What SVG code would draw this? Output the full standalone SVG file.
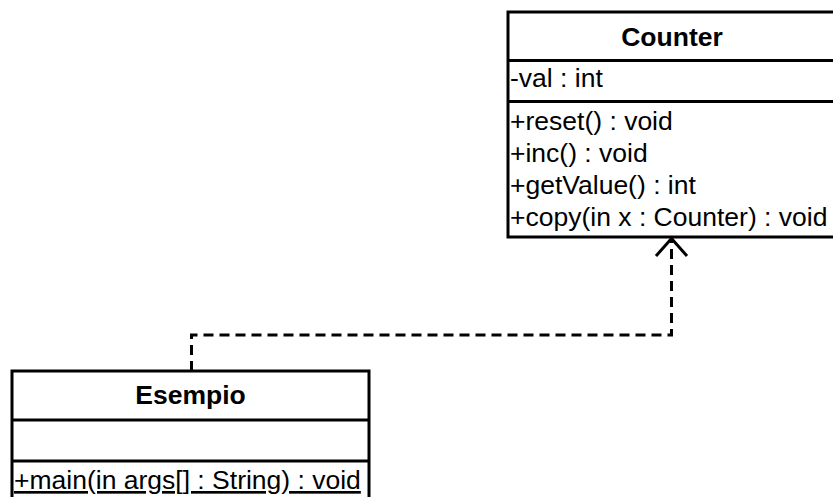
<svg xmlns="http://www.w3.org/2000/svg" width="833" height="497" viewBox="0 0 833 497">
  <style>
    .box { fill: #ffffff; stroke: #000000; stroke-width: 3; }
    .sep { stroke: #000000; stroke-width: 3; }
    .title { font-family: "Liberation Sans", Arial, sans-serif; font-size: 26.5px; font-weight: bold; fill: #000000; text-anchor: middle; }
    .member { font-family: "Liberation Sans", Arial, sans-serif; font-size: 26.5px; fill: #000000; }
    .dep { fill: none; stroke: #000000; stroke-width: 3; stroke-dasharray: 10 6; }
    .head { fill: none; stroke: #000000; stroke-width: 3; }
  </style>
  <rect width="833" height="497" fill="#ffffff"/>

  <!-- dependency: Esempio uses Counter -->
  <g id="connectors">
    <path class="dep" d="M191.5,371 V335 H671.5 V240"/>
    <polyline class="head" points="656,256 671.5,238.5 687,256"/>
  </g>

  <g id="Counter">
    <rect class="box" x="508" y="12" width="335" height="225"/>
    <line class="sep" x1="508" y1="60.5" x2="843" y2="60.5"/>
    <line class="sep" x1="508" y1="101.5" x2="843" y2="101.5"/>
    <text class="title" x="672" y="46">Counter</text>
    <text class="member" x="510" y="87">-val : int</text>
    <text class="member" x="510" y="130">+reset() : void</text>
    <text class="member" x="510" y="162">+inc() : void</text>
    <text class="member" x="510" y="194">+getValue() : int</text>
    <text class="member" x="510" y="226">+copy(in x : Counter) : void</text>
  </g>

  <g id="Esempio">
    <rect class="box" x="12" y="371" width="357" height="140"/>
    <line class="sep" x1="12" y1="420" x2="369" y2="420"/>
    <line class="sep" x1="12" y1="461" x2="369" y2="461"/>
    <text class="title" x="190.5" y="404">Esempio</text>
    <text class="member" x="14" y="489" text-decoration="underline">+main(in args[] : String) : void</text>
  </g>
</svg>
